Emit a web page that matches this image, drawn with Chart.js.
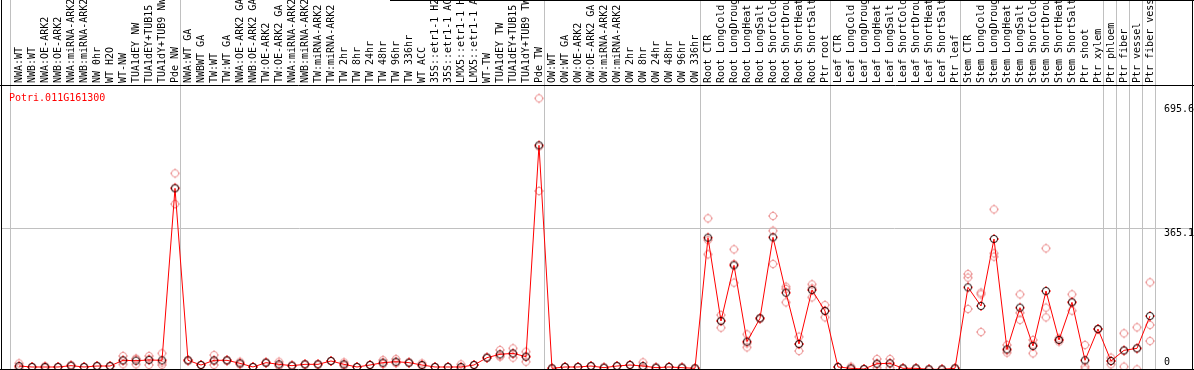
<!DOCTYPE html>
<html><head><meta charset="utf-8">
<script src="https://cdn.jsdelivr.net/npm/chart.js@4/dist/chart.umd.min.js"></script>
<style>html,body{margin:0;padding:0;background:#fff;} #wrap{width:1194px;height:370px;}</style>
</head><body><div id="wrap"><canvas id="c" width="1194" height="370"></canvas></div>
<script>
const geneId = 'Potri.011G161300';
const categories = [
 'NWA:WT','NWB:WT','NWA:OE-ARK2','NWB:OE-ARK2','NWA:miRNA-ARK2','NWB:miRNA-ARK2','NW 0hr','WT H2O','WT-NW','TUA1dEY NW',
 'TUA1dEY+TUB15 NW','TUA1dY+TUB9 NW','Pde NW','NWA:WT GA','NWBWT GA','TW:WT','TW:WT GA','NWA:OE-ARK2 GA','NWB:OE-ARK2 GA','TW:OE-ARK2',
 'TW:OE-ARK2 GA','NWA:miRNA-ARK2','NWB:miRNA-ARK2','TW:miRNA-ARK2','TW:miRNA-ARK2','TW 2hr','TW 8hr','TW 24hr','TW 48hr','TW 96hr',
 'TW 336hr','WT ACC','35S::etr1-1 H2O','35S::etr1-1 ACC','LMX5::etr1-1 H2O','LMX5::etr1-1 ACC','WT-TW','TUA1dEY TW','TUA1dEY+TUB15 TW','TUA1dY+TUB9 TW',
 'Pde TW','OW:WT','OW:WT GA','OW:OE-ARK2','OW:OE-ARK2 GA','OW:miRNA-ARK2','OW:miRNA-ARK2','OW 2hr','OW 8hr','OW 24hr',
 'OW 48hr','OW 96hr','OW 336hr','Root CTR','Root LongCold','Root LongDrought','Root LongHeat','Root LongSalt','Root ShortCold','Root ShortDrought',
 'Root ShortHeat','Root ShortSalt','Ptr root','Leaf CTR','Leaf LongCold','Leaf LongDrought','Leaf LongHeat','Leaf LongSalt','Leaf ShortCold','Leaf ShortDrought',
 'Leaf ShortHeat','Leaf ShortSalt','Ptr leaf','Stem CTR','Stem LongCold','Stem LongDrought','Stem LongHeat','Stem LongSalt','Stem ShortCold','Stem ShortDrought',
 'Stem ShortHeat','Stem ShortSalt','Ptr shoot','Ptr xylem','Ptr phloem','Ptr fiber','Ptr vessel','Ptr fiber vessel'
];
const meanValues = [
 11.5,9,9,9,12.4,9,11.5,11.5,26.1,25.2,
 26.9,26.1,467.1,26.1,14.1,26.1,26.1,18.4,9,20.1,
 15.8,12.4,15.8,15.8,24.4,15.8,9,14.1,20.1,22.6,
 20.1,14.1,9,9,9,14.1,32.9,41.5,44,35.5,
 577.4,5.6,9,9,11.5,7.3,11.5,14.1,11.5,7.3,
 9,7.3,5.6,340.6,126.9,269.7,73.9,133.8,341.5,199.6,
 68,206.4,152.6,9,5.6,3.8,17.5,18.4,5.6,5.6,
 3,3,5.6,213.3,165.4,337.2,54.3,161.1,62.8,203.8,
 78.2,174.8,26.1,106.4,24.4,51.7,56.8,139.7
];
const rep1 = [
 18.4,9,11.5,9,12.4,9,11.5,11.5,37.2,15.8,
 37.2,44,505.6,26.1,14.1,39.7,26.1,22.6,9,20.1,
 22.6,12.4,15.8,15.8,24.4,20.9,9,14.1,26.9,29.5,
 20.1,18.4,9,9,15.8,14.1,32.9,52.6,56.8,48.3,
 697.9,5.6,9,9,11.5,7.3,11.5,14.1,20.9,7.3,
 9,7.3,5.6,390.2,142.3,310.7,92.7,133.8,396.2,214.9,
 86.7,220.9,167.9,9,9.8,3.8,29.5,29.5,5.6,5.6,
 3,3,5.6,247.4,199.6,413.3,65.4,195.3,78.2,313.2,
 73.9,195.3,65.4,106.4,32.9,95.3,110.7,226.1
];
const rep2 = [
 8,9,8,9,12.4,9,11.5,11.5,15.8,30,
 14.1,14.1,426.9,26.1,14.1,14.1,26.1,16,9,20.1,
 12.4,12.4,15.8,15.8,24.4,13,9,14.1,16.7,19,
 20.1,12,9,9,6,14.1,32.9,35.5,32.9,22.6,
 460.3,5.6,9,9,11.5,7.3,11.5,14.1,7,7.3,
 9,7.3,5.6,297.9,109.8,225.2,59.4,133.8,358.5,174.8,
 50,187.6,136.3,9,3.5,3.8,7.3,7.3,5.6,5.6,
 3,3,5.6,238,195.3,300.4,45.7,148,44,161.1,
 78.2,153.4,9.8,106.4,15.8,9.8,3,116.7
];
const rep3 = [
 8,9,7.5,9,12.4,9,11.5,11.5,25.3,30,
 29.4,20.2,468.8,26.1,14.1,24.5,26.1,16.6,9,20.1,
 12.4,12.4,15.8,15.8,24.4,13.5,9,14.1,16.7,19.3,
 20.1,12,9,9,5.2,14.1,32.9,36.4,42.3,35.6,
 574,5.6,9,9,11.5,7.3,11.5,14.1,6.6,7.3,
 9,7.3,5.6,334.6,128.6,273.2,69.6,133.8,273.1,209.1,
 67.3,210.7,153.6,9,3.5,3.8,15.7,18.4,5.6,5.6,
 3,3,5.6,157.7,98.7,291.9,51.8,129.5,66.2,136.3,
 82.5,175.7,3,106.4,24.5,50,56.7,75.6
];
const groupBoundaries = [-0.69, 12.41, 40.43, 52.41, 62.41, 72.43, 83.41, 84.41, 85.41, 86.41, 87.41];
const yGridValues = [365.1];
const yTickValues = [0, 365.1, 695.6];
const yTickLabels = ['0', '365.1', '695.6'];

// ---- styles ----
const FONT = '"DejaVu Sans Mono", "Liberation Mono", monospace';
const yLabelDy = [-5.5, 8, 12.3];

function makeMarker(ring, tick) {
  const c = document.createElement('canvas');
  c.width = 12; c.height = 12;
  const g = c.getContext('2d');
  g.lineWidth = 1;
  g.strokeStyle = ring;
  g.beginPath(); g.arc(6, 6, 3.6, 0, Math.PI * 2); g.stroke();
  g.strokeStyle = tick;
  g.beginPath();
  g.moveTo(6, 1); g.lineTo(6, 2.4);
  g.moveTo(6, 9.6); g.lineTo(6, 11);
  g.moveTo(1, 6); g.lineTo(2.4, 6);
  g.moveTo(9.6, 6); g.lineTo(11, 6);
  g.stroke();
  return c;
}
const meanMarker = makeMarker('#1a0000', '#ff0000');
const repMarker = makeMarker('#ec9494', '#ec9494');

const repPoints = [];
categories.forEach((_, i) => { [rep1, rep2, rep3].forEach(r => repPoints.push({ x: i, y: r[i] })); });

const framePlugin = {
  id: 'frame',
  beforeDraw(chart) {
    const c = chart.ctx; c.save(); c.fillStyle = '#fff'; c.fillRect(0, 0, chart.width, chart.height); c.restore();
  },
  afterDraw(chart) {
    const c = chart.ctx, a = chart.chartArea;
    c.save();
    c.strokeStyle = '#000'; c.lineWidth = 1;
    c.beginPath();
    c.moveTo(a.left - 0.5, 0); c.lineTo(a.left - 0.5, chart.height);
    c.moveTo(a.right + 0.5, 0); c.lineTo(a.right + 0.5, chart.height);
    c.moveTo(0, a.top - 0.5); c.lineTo(chart.width, a.top - 0.5);
    c.moveTo(0, a.bottom + 0.5); c.lineTo(chart.width, a.bottom + 0.5);
    c.moveTo(390, 0.5); c.lineTo(chart.width, 0.5);
    c.stroke();
    c.font = '10px ' + FONT;
    c.textAlign = 'left'; c.textBaseline = 'alphabetic';
    c.fillStyle = '#ff0000';
    c.fillText(geneId, a.left + 7, a.top + 15);
    const ys = chart.scales.y;
    c.fillStyle = '#000';
    yTickValues.forEach((v, i) => c.fillText(yTickLabels[i], a.right - 28, ys.getPixelForValue(v) + yLabelDy[i]));
    c.restore();
  }
};

new Chart(document.getElementById('c'), {
  type: 'scatter',
  data: {
    datasets: [
      { type: 'line', data: meanValues.map((v, i) => ({ x: i, y: v })), borderColor: '#ff0000', borderWidth: 1,
        pointStyle: meanMarker, pointRadius: 4, tension: 0, fill: false, clip: { left: 0, top: 0, right: 0, bottom: 4 } },
      { data: repPoints, pointStyle: repMarker, pointRadius: 4, showLine: false, clip: { left: 0, top: 0, right: 0, bottom: 4 } }
    ]
  },
  options: {
    responsive: false, animation: false, devicePixelRatio: 1, events: [],
    layout: { padding: { left: 2, right: 2, top: 0, bottom: 1 }, autoPadding: false },
    plugins: { legend: { display: false }, tooltip: { enabled: false }, title: { display: false } },
    scales: {
      x: {
        type: 'linear', position: 'top', min: -1.3077, max: 90.2308, bounds: 'data',
        afterBuildTicks: s => { s.ticks = [...categories.map((_, i) => ({ value: i })), ...groupBoundaries.map(v => ({ value: v }))]; },
        afterFit: s => { s.height = 86; },
        ticks: { autoSkip: false, minRotation: 90, maxRotation: 90, padding: -83, color: '#000',
          font: { family: FONT, size: 10, lineHeight: '0px' },
          callback: v => Number.isInteger(v) ? categories[v] : '' },
        grid: { color: c => (c.tick && !Number.isInteger(c.tick.value)) ? '#c0c0c0' : 'rgba(0,0,0,0)',
          lineWidth: 1, drawTicks: true, tickLength: 86 },
        border: { display: false }
      },
      y: {
        type: 'linear', position: 'right', min: 3.85, max: 729.5, bounds: 'data',
        afterBuildTicks: s => { s.ticks = yGridValues.map(v => ({ value: v })); },
        afterFit: s => { s.width = 0; },
        ticks: { display: false },
        grid: { color: '#c0c0c0', drawTicks: false, lineWidth: 1 },
        border: { display: false }
      }
    }
  },
  plugins: [framePlugin]
});
</script>
</body></html>
